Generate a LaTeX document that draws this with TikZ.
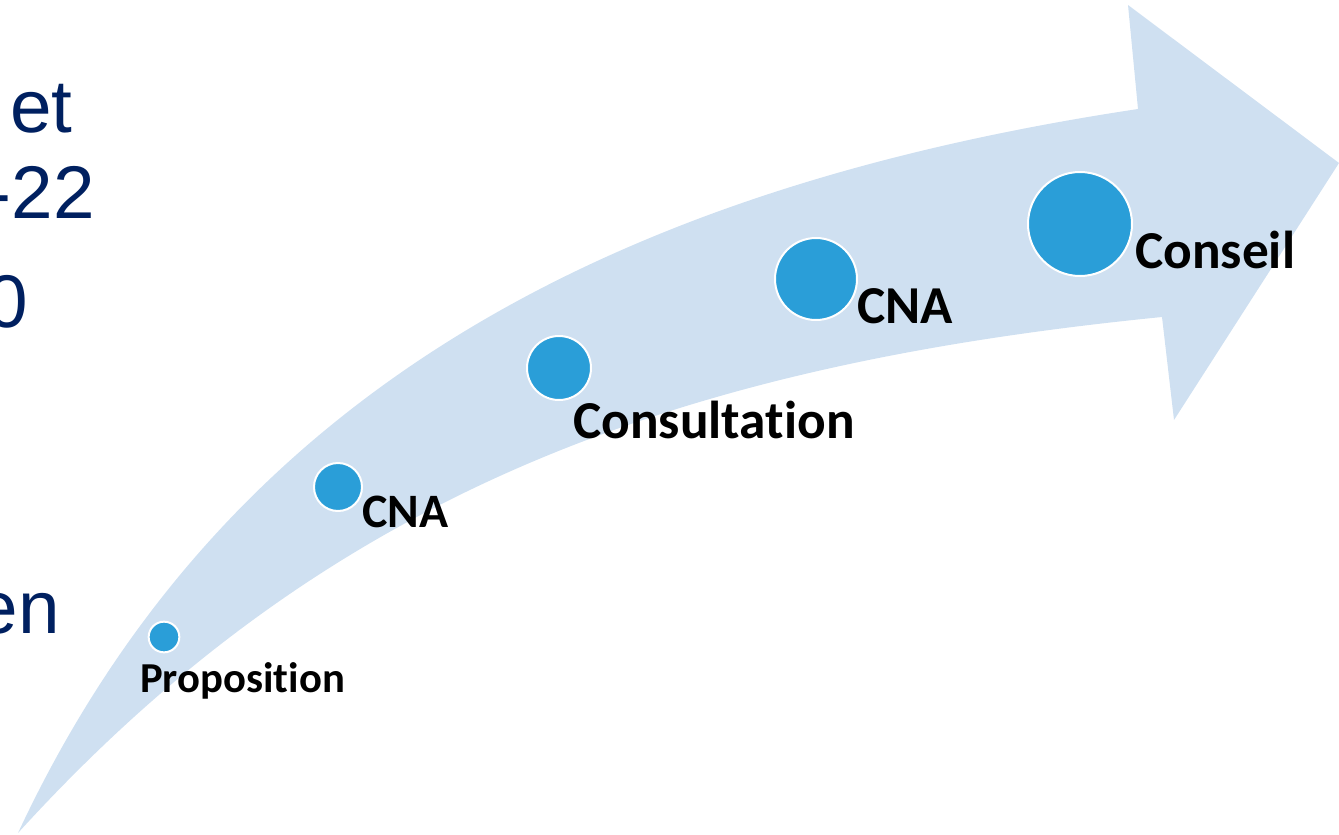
\documentclass[tikz,border=0pt]{standalone}
\usepackage{fontspec}
\setmainfont{Carlito}[RawFeature=-liga]
\newfontfamily\slidefont{Liberation Sans}
\definecolor{bandblue}{RGB}{207,224,241}
\definecolor{dotblue}{RGB}{42,158,216}
\definecolor{slidenavy}{RGB}{0,32,96}

\begin{document}
\begin{tikzpicture}[x=0.75pt, y=-0.75pt,
	dot/.style = {circle, fill=dotblue, draw=white, line width=1.5pt, inner sep=0pt},
	stage/.style = {anchor=base west, inner sep=0pt, font=\bfseries\fontsize{40}{40}\selectfont},
	bodytext/.style = {anchor=base east, inner sep=0pt, text=slidenavy, font=\slidefont\fontsize{56}{56}\selectfont}]
	\useasboundingbox (0,0) rectangle (1339,835);

	\node[bodytext] (et) at (73,132) {et};
	\node[bodytext] (year) at (95,218) {-22};
	\node[bodytext] (zero) at (28,327) {0};
	\node[bodytext] (en) at (60,633) {en};

	\fill[bandblue] (18,833) .. controls (220,400) and (600,190) .. (1138,109)
		-- (1128,5) -- (1339,163) -- (1174,420) -- (1162,317)
		.. controls (680,365) and (330,490) .. cycle;

	\node[dot, minimum size=23pt] (d1) at (164,637) {};
	\node[dot, minimum size=36pt] (d2) at (338,487) {};
	\node[dot, minimum size=48pt] (d3) at (559,368) {};
	\node[dot, minimum size=61.5pt] (d4) at (816,279) {};
	\node[dot, minimum size=78pt] (d5) at (1080,224) {};

	\node[stage, font=\bfseries\fontsize{32}{32}\selectfont] (proposition) at (140,692) {Proposition};
	\node[stage, font=\bfseries\fontsize{36}{36}\selectfont] (cna1) at (362,527) {CNA};
	\node[stage] (consultation) at (573,438) {Consultation};
	\node[stage] (cna2) at (857,323) {CNA};
	\node[stage] (conseil) at (1135,268) {Conseil};
\end{tikzpicture}
\end{document}
